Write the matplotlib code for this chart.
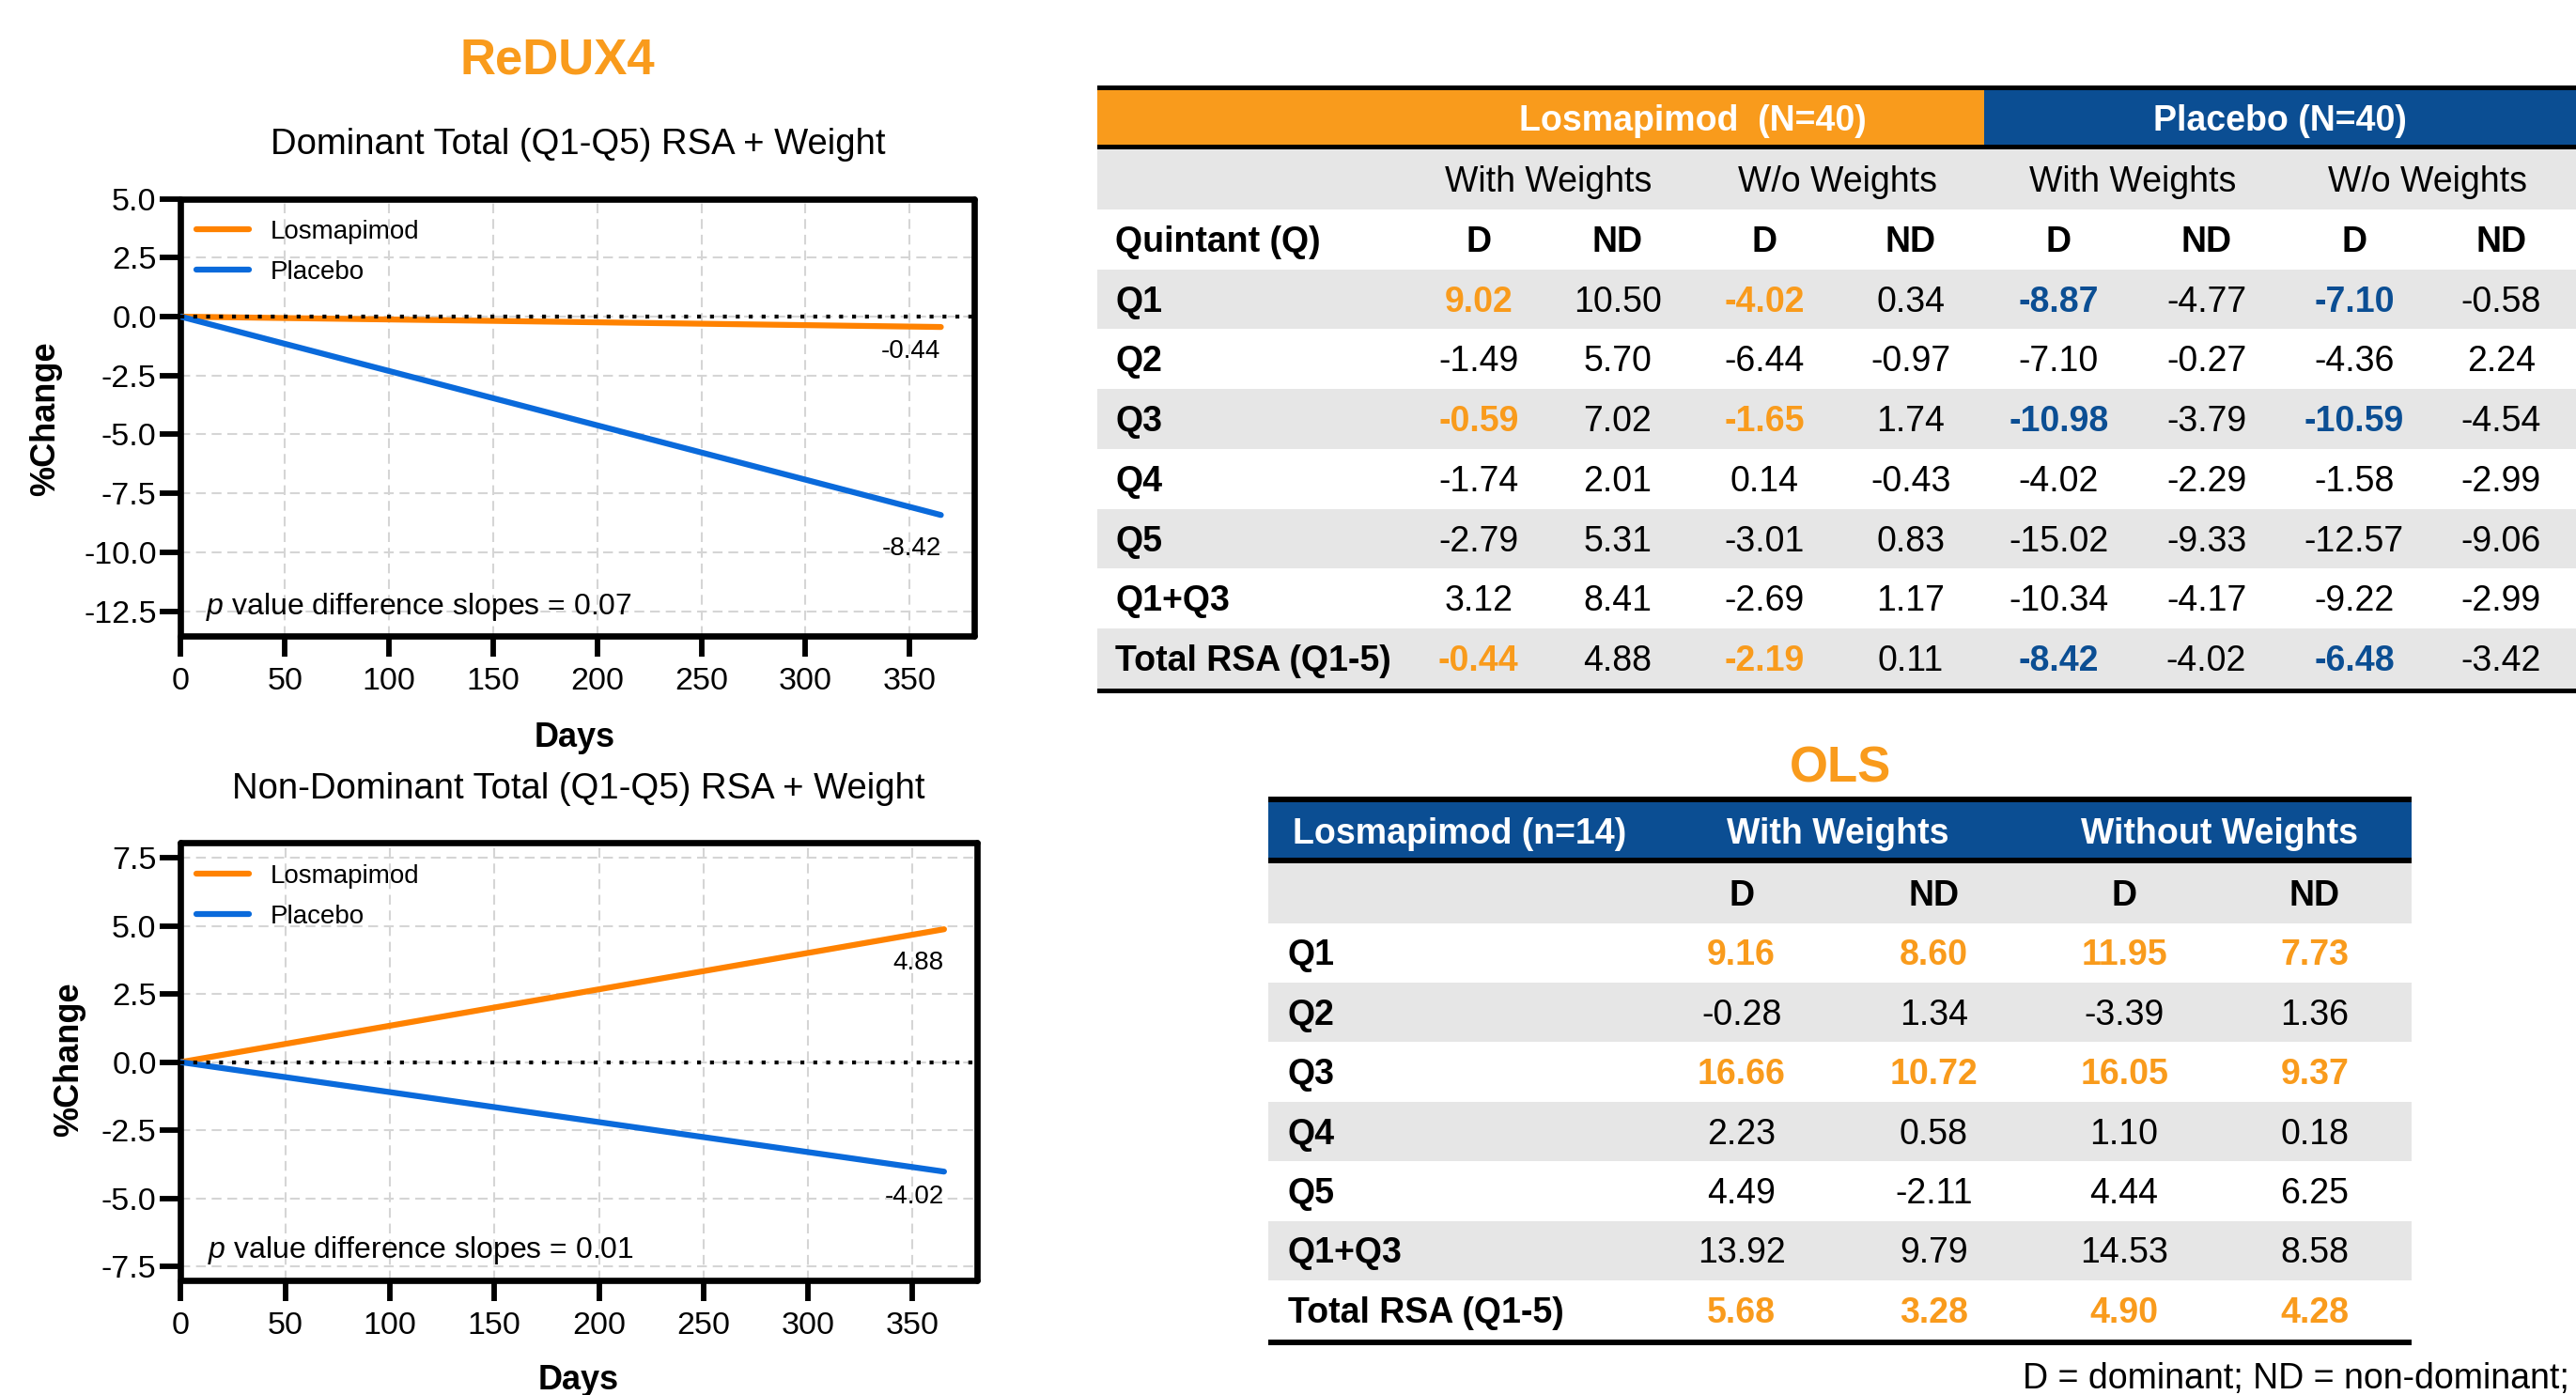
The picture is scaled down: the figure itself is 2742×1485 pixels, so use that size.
import matplotlib
matplotlib.use("Agg")
import matplotlib.pyplot as plt
from matplotlib.patches import Rectangle
from matplotlib.ticker import FormatStrFormatter

plt.rcParams['font.family'] = ['Liberation Sans', 'DejaVu Sans']
plt.rcParams['axes.unicode_minus'] = False
plt.rcParams['mathtext.fontset'] = 'custom'
plt.rcParams['mathtext.it'] = 'Liberation Sans:italic'
plt.rcParams['mathtext.rm'] = 'Liberation Sans'

# ---- line charts (slope fits, day 0 -> day 365)
days = [0, 365]
dom_los = [0, -0.44]
dom_pbo = [0, -8.42]
nd_los = [0, 4.88]
nd_pbo = [0, -4.02]
dom_pval = "0.07"
nd_pval = "0.01"
x_ticks = [0, 50, 100, 150, 200, 250, 300, 350]
dom_yticks = [5.0, 2.5, 0.0, -2.5, -5.0, -7.5, -10.0, -12.5]
nd_yticks = [7.5, 5.0, 2.5, 0.0, -2.5, -5.0, -7.5]

# ---- ReDUX4 table
quintants = ["Q1", "Q2", "Q3", "Q4", "Q5", "Q1+Q3", "Total RSA (Q1-5)"]
los_with_D = [9.02, -1.49, -0.59, -1.74, -2.79, 3.12, -0.44]
los_with_ND = [10.50, 5.70, 7.02, 2.01, 5.31, 8.41, 4.88]
los_wo_D = [-4.02, -6.44, -1.65, 0.14, -3.01, -2.69, -2.19]
los_wo_ND = [0.34, -0.97, 1.74, -0.43, 0.83, 1.17, 0.11]
pbo_with_D = [-8.87, -7.10, -10.98, -4.02, -15.02, -10.34, -8.42]
pbo_with_ND = [-4.77, -0.27, -3.79, -2.29, -9.33, -4.17, -4.02]
pbo_wo_D = [-7.10, -4.36, -10.59, -1.58, -12.57, -9.22, -6.48]
pbo_wo_ND = [-0.58, 2.24, -4.54, -2.99, -9.06, -2.99, -3.42]
redux_hl_rows = ["Q1", "Q3", "Total RSA (Q1-5)"]   # D columns coloured

# ---- OLS table
ols_with_D = [9.16, -0.28, 16.66, 2.23, 4.49, 13.92, 5.68]
ols_with_ND = [8.60, 1.34, 10.72, 0.58, -2.11, 9.79, 3.28]
ols_wo_D = [11.95, -3.39, 16.05, 1.10, 4.44, 14.53, 4.90]
ols_wo_ND = [7.73, 1.36, 9.37, 0.18, 6.25, 8.58, 4.28]
ols_hl_rows = ["Q1", "Q3", "Total RSA (Q1-5)"]     # all columns coloured

LINE_OR = '#FF8200'
LINE_BL = '#0A6ADB'
TAB_OR = '#F99B1C'
TAB_BL = '#0B4E93'
GREY = '#E6E6E6'
GRID = '#D5D5D5'

fig = plt.figure(figsize=(27.42, 14.85), dpi=100)

# layout layer in reference-image units (1568 x 849)
lay = fig.add_axes([0, 0, 1, 1])
lay.set_xlim(0, 1568)
lay.set_ylim(849, 0)
lay.axis('off')


def line_panel(rect, los, pbo, ylim, yticks, pval, pval_xy, offs):
    ax = fig.add_axes(rect)
    ax.plot(days, los, color=LINE_OR, lw=4.5, label='Losmapimod', solid_capstyle='round', zorder=3)
    ax.plot(days, pbo, color=LINE_BL, lw=4.5, label='Placebo', solid_capstyle='round', zorder=3)
    ax.axhline(0, color='black', lw=3, ls=(0, (1, 2.3)), zorder=4)
    ax.set_xlim(0, 381)
    ax.set_ylim(*ylim)
    ax.set_xticks(x_ticks)
    ax.set_yticks(yticks)
    ax.yaxis.set_major_formatter(FormatStrFormatter('%.1f'))
    ax.grid(True, color=GRID, ls=(0, (5, 3)), lw=1.5, zorder=0)
    for s in ax.spines.values():
        s.set_linewidth(4.8)
        s.set_color('black')
        s.set_capstyle('round')
    ax.tick_params(axis='both', direction='out', width=4.2, labelsize=24.5, color='black')
    ax.tick_params(axis='y', length=15.5, pad=3)
    ax.tick_params(axis='x', length=16, pad=8)
    for vals, off in zip([los, pbo], offs):
        ax.annotate(f"{vals[-1]:.2f}", (days[-1], vals[-1]), xytext=(0, off),
                    textcoords='offset points', ha='right', va='center', fontsize=20)
    ax.text(pval_xy[0], pval_xy[1], f"$p$ value difference slopes = {pval}",
            fontsize=23, ha='left', va='center')
    ax.legend(loc='upper left', bbox_to_anchor=(0.0, 0.988), frameon=False, fontsize=20,
              handlelength=2.0, handletextpad=0.85, labelspacing=0.62, borderaxespad=0.2)
    return ax


line_panel([110 / 1568, 1 - 387 / 849, 483 / 1568, 266 / 849], dom_los, dom_pbo,
           (-13.55, 5.0), dom_yticks, dom_pval, (12, -12.3), (-19, -26))
line_panel([110 / 1568, 1 - 779 / 849, 485 / 1568, 266 / 849], nd_los, nd_pbo,
           (-8.0, 8.05), nd_yticks, nd_pval, (13, -6.9), (-26, -19))

lay.text(339, 37, 'ReDUX4', color=TAB_OR, fontsize=38, fontweight='bold', ha='center', va='center')
lay.text(352, 88, 'Dominant Total (Q1-Q5) RSA + Weight', fontsize=27.5, ha='center', va='center')
lay.text(350, 449, 'Days', fontsize=26, fontweight='bold', ha='center', va='center')
lay.text(28, 255, '%Change', fontsize=26, fontweight='bold', rotation=90, ha='center', va='center')
lay.text(352, 480, 'Non-Dominant Total (Q1-Q5) RSA + Weight', fontsize=27.5, ha='center', va='center')
lay.text(352, 840, 'Days', fontsize=26, fontweight='bold', ha='center', va='center')
lay.text(42, 645, '%Change', fontsize=26, fontweight='bold', rotation=90, ha='center', va='center')

FS = 27
DY = 1.8   # text sits slightly below the band centre


def band(x0, x1, y0, y1, color):
    lay.add_patch(Rectangle((x0, y0), x1 - x0, y1 - y0, facecolor=color, edgecolor='none', zorder=1))


# ---- ReDUX4 table
tx0, tx1 = 668, 1570
tcols = [900, 984.5, 1074, 1163, 1253, 1343, 1433, 1522.5]
t_top, t_hdr, rh = 55, 91, 36.44
band(tx0, 1208, t_top, t_hdr - 2, TAB_OR)
band(1208, tx1, t_top, t_hdr - 2, TAB_BL)
band(tx0, tx1, t_top - 3, t_top, 'black')
band(tx0, tx1, t_hdr - 3, t_hdr, 'black')
nrows = 2 + len(quintants)
for k in range(nrows):
    if k % 2 == 0:
        band(tx0, tx1, t_hdr + k * rh, t_hdr + (k + 1) * rh, GREY)
t_bot = t_hdr + nrows * rh
band(tx0, tx1, t_bot, t_bot + 3, 'black')

hy = (t_top + t_hdr) / 2 + 0.5
lay.text(sum(tcols[:4]) / 4, hy, 'Losmapimod  (N=40)', color='white', fontsize=FS,
         fontweight='bold', ha='center', va='center', zorder=3)
lay.text(sum(tcols[4:]) / 4, hy, 'Placebo (N=40)', color='white', fontsize=FS,
         fontweight='bold', ha='center', va='center', zorder=3)
rc = lambda k: t_hdr + (k + 0.5) * rh + DY
for i, name in enumerate(['With Weights', 'W/o Weights', 'With Weights', 'W/o Weights']):
    lay.text((tcols[2 * i] + tcols[2 * i + 1]) / 2, rc(0), name, fontsize=FS, ha='center', va='center', zorder=3)
lay.text(679, rc(1), 'Quintant (Q)', fontsize=FS, fontweight='bold', ha='left', va='center', zorder=3)
for i, x in enumerate(tcols):
    lay.text(x, rc(1), 'D' if i % 2 == 0 else 'ND', fontsize=FS, fontweight='bold',
             ha='center', va='center', zorder=3)
redux_cols = [los_with_D, los_with_ND, los_wo_D, los_wo_ND,
              pbo_with_D, pbo_with_ND, pbo_wo_D, pbo_wo_ND]
for r, q in enumerate(quintants):
    y = rc(r + 2)
    lay.text(679, y, q, fontsize=FS, fontweight='bold', ha='left', va='center', zorder=3)
    for c, (x, col) in enumerate(zip(tcols, redux_cols)):
        hl = q in redux_hl_rows and c % 2 == 0
        color = (TAB_OR if c < 4 else TAB_BL) if hl else 'black'
        lay.text(x, y, f"{col[r]:.2f}", fontsize=FS, color=color,
                 fontweight='bold' if hl else 'normal', ha='center', va='center', zorder=3)

# ---- OLS table
bx0, bx1 = 772, 1468
bcols = [1060, 1177, 1293, 1409]
b_top, b_hdr, brh = 488, 525.5, 36.25
lay.text(1120, 468, 'OLS', color=TAB_OR, fontsize=38, fontweight='bold', ha='center', va='center')
band(bx0, bx1, b_top, b_hdr - 2, TAB_BL)
band(bx0, bx1, b_top - 3, b_top, 'black')
band(bx0, bx1, b_hdr - 3.5, b_hdr, 'black')
bn = 1 + len(quintants)
for k in range(bn):
    if k % 2 == 0:
        band(bx0, bx1, b_hdr + k * brh, b_hdr + (k + 1) * brh, GREY)
b_bot = b_hdr + bn * brh
band(bx0, bx1, b_bot, b_bot + 3, 'black')

bhy = (b_top + b_hdr - 2) / 2 + DY
lay.text(787, bhy, 'Losmapimod (n=14)', color='white', fontsize=FS, fontweight='bold',
         ha='left', va='center', zorder=3)
lay.text((bcols[0] + bcols[1]) / 2, bhy, 'With Weights', color='white', fontsize=FS,
         fontweight='bold', ha='center', va='center', zorder=3)
lay.text((bcols[2] + bcols[3]) / 2, bhy, 'Without Weights', color='white', fontsize=FS,
         fontweight='bold', ha='center', va='center', zorder=3)
brc = lambda k: b_hdr + (k + 0.5) * brh + DY
for i, x in enumerate(bcols):
    lay.text(x, brc(0), 'D' if i % 2 == 0 else 'ND', fontsize=FS, fontweight='bold',
             ha='center', va='center', zorder=3)
ols_cols = [ols_with_D, ols_with_ND, ols_wo_D, ols_wo_ND]
for r, q in enumerate(quintants):
    y = brc(r + 1)
    lay.text(784, y, q, fontsize=FS, fontweight='bold', ha='left', va='center', zorder=3)
    hl = q in ols_hl_rows
    for x, col in zip(bcols, ols_cols):
        lay.text(x, y, f"{col[r]:.2f}", fontsize=FS, color=TAB_OR if hl else 'black',
                 fontweight='bold' if hl else 'normal', ha='center', va='center', zorder=3)

lay.text(1564, 839, 'D = dominant; ND = non-dominant;', fontsize=FS, ha='right', va='center')

fig.savefig('out.png', dpi=100)
